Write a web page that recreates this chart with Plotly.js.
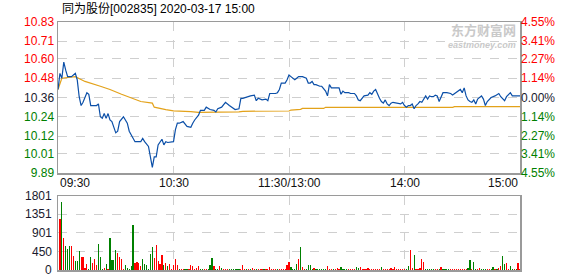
<!DOCTYPE html>
<html><head><meta charset="utf-8">
<script src="https://cdn.plot.ly/plotly-3.0.1.min.js"></script>
<style>html,body{margin:0;padding:0;background:#fff;}#chart{width:578px;height:276px;}</style>
</head><body><div id="chart"></div>
<script>
const titleText = "同为股份[002835] 2020-03-17 15:00";
const preClose = 10.36;
const priceTicks = [10.83,10.71,10.60,10.48,10.36,10.24,10.12,10.01,9.89];
const pctTicks = ["4.55%","3.41%","2.27%","1.14%","0.00%","1.14%","2.27%","3.41%","4.55%"];
const volTicks = [0,450,901,1351,1801];
const timeLabels = ["09:30","10:30","11:30/13:00","14:00","15:00"];
const timeLabelMinutes = [0,60,120,180,240];

const priceMinute = [0,1,2,3,4,5,7,8,9,10,11,12,13,15,16,17,20,21,22,23,24,25,26,27,28,30,31,32,34,36,37,40,43,44,45,47,48,49,50,51,52,53,54,55,56,57,60,61,62,63,65,67,69,70,71,73,74,76,77,79,81,82,83,85,87,89,90,92,94,95,96,98,100,102,103,104,106,108,109,110,113,114,
115,116,117,118,119,120,121,122,123,124,125,126,127,129,130,131,132,133,134,136,137,139,140,141,142,144,146,147,148,149,151,152,154,155,156,157,158,159,161,162,163,164,165,166,167,168,169,170,171,172,173,174,176,178,179,180,181,182,183,184,185,186,187,188,189,190,191,192,193,194,195,196,197,198,199,200,202,204,205,206,207,209,210,211,212,213,214,215,216,217,218,219,220,221,222,223,224,225,227,228,229,230,231,232,233,235,236,240];
const priceValue = [10.41,10.51,10.48,10.58,10.53,10.49,10.49,10.50,10.51,10.47,10.365,10.31,10.33,10.39,10.38,10.31,10.31,10.32,10.24,10.23,10.26,10.23,10.26,10.22,10.21,10.14,10.15,10.21,10.24,10.20,10.15,10.085,10.085,10.105,10.085,10.055,9.99,9.925,9.99,9.99,10.065,10.08,10.10,10.065,10.085,10.08,10.085,10.16,10.20,10.20,10.21,10.18,10.175,10.20,10.22,10.25,10.28,10.28,10.30,10.285,10.28,10.27,10.29,10.30,10.33,10.31,10.30,10.285,10.29,10.355,10.355,10.365,10.37,10.375,10.34,10.355,10.345,10.35,10.34,10.385,10.385,10.39,
10.41,10.45,10.45,10.45,10.47,10.50,10.49,10.48,10.47,10.48,10.49,10.49,10.49,10.48,10.45,10.45,10.46,10.44,10.44,10.43,10.43,10.40,10.37,10.44,10.42,10.42,10.42,10.38,10.40,10.39,10.39,10.385,10.385,10.37,10.345,10.34,10.355,10.37,10.375,10.39,10.38,10.40,10.41,10.38,10.355,10.335,10.325,10.345,10.32,10.31,10.325,10.33,10.325,10.32,10.33,10.31,10.30,10.31,10.31,10.32,10.29,10.31,10.32,10.335,10.33,10.35,10.37,10.35,10.37,10.365,10.365,10.375,10.37,10.335,10.365,10.39,10.39,10.385,10.375,10.385,10.395,10.41,10.39,10.42,10.37,10.345,10.335,10.33,10.345,10.32,10.35,10.36,10.37,10.35,10.31,10.335,10.35,10.36,10.37,10.375,10.385,10.365,10.35,10.34,10.365,10.39,10.37,10.37];

const avgMinute = [0,2,9,14,22,27,33,39,43,49,50,56,60,69,73,94,96,120,121,126,127,138,139,205,206,240];
const avgValue = [10.41,10.48,10.49,10.46,10.43,10.41,10.38,10.35,10.335,10.325,10.30,10.285,10.277,10.272,10.268,10.27,10.274,10.276,10.282,10.286,10.292,10.292,10.299,10.299,10.303,10.303];

// volume for minutes 1..240
const volume = [
1241,1646,770,584,503,584,584,340,219,219,
462,316,316,49,146,24,316,170,268,122,
633,316,24,49,146,24,779,243,243,487,
414,316,268,24,122,49,24,97,1095,170,
195,170,97,268,146,122,24,389,560,292,
608,219,146,365,122,170,97,146,24,122,
268,122,24,24,24,24,24,24,122,97,
24,49,97,24,24,24,24,24,122,292,
97,24,24,97,49,24,24,24,24,24,
24,24,24,24,24,122,24,24,24,24,
49,24,24,24,24,24,24,24,24,73,
24,24,24,24,24,24,24,24,122,195,
73,24,24,146,268,560,73,24,24,122,
122,24,49,24,24,24,24,24,24,97,
24,24,24,24,49,24,73,24,24,24,
24,24,24,24,73,49,73,24,24,24,
49,24,24,24,24,24,24,73,24,24,
24,24,49,24,73,24,24,24,24,24,
24,97,487,49,365,24,24,49,268,195,
24,24,24,24,24,24,24,24,73,24,
24,24,24,24,24,24,24,24,24,24,
24,24,49,243,24,195,24,24,49,24,
24,24,24,24,24,73,24,24,49,97,
340,146,170,24,97,24,24,24,170,24];
const volumeDir = [
1,-1,1,-1,-1,-1,1,1,-1,-1,
-1,1,1,1,1,-1,-1,1,1,1,
-1,-1,-1,1,-1,1,-1,-1,-1,-1,
1,1,1,1,-1,-1,-1,-1,-1,1,
1,1,1,-1,-1,-1,-1,-1,-1,1,
1,1,1,1,-1,1,-1,1,1,1,
1,1,-1,1,1,-1,-1,1,1,1,
1,1,1,-1,-1,1,1,-1,-1,-1,
1,-1,-1,1,-1,1,1,1,-1,-1,
-1,-1,-1,-1,1,1,1,-1,1,-1,
1,1,-1,1,1,1,-1,1,1,1,
1,1,1,-1,1,1,1,1,1,1,
-1,-1,-1,-1,1,-1,1,1,-1,-1,
-1,-1,1,-1,-1,-1,-1,-1,-1,1,
1,1,-1,1,1,1,-1,-1,-1,-1,
1,1,1,1,-1,-1,1,1,1,1,
1,1,1,1,1,1,1,-1,1,1,
1,1,1,1,1,1,1,1,1,1,
-1,-1,1,1,-1,1,1,1,1,1,
-1,-1,-1,-1,-1,1,1,-1,1,-1,
-1,-1,-1,1,1,1,1,1,1,1,
1,1,-1,-1,1,-1,-1,1,1,-1,
-1,-1,1,1,-1,-1,1,-1,1,1,
-1,-1,1,1,-1,-1,1,-1,1,1];

const RED = "#ff0000", GREEN = "#008000", DARK = "#1a1a2e";
const volMinute = volume.map((v, i) => i + 1);
const volColor = volumeDir.map(d => d > 0 ? RED : GREEN);
const tickColor = p => Math.abs(p - preClose) < 0.005 ? DARK : (p > preClose ? RED : GREEN);
const priceText = priceTicks.map(p => `<span style="color:${tickColor(p)}">${p.toFixed(2)}</span>`);
const pctText = pctTicks.map((t, i) => `<span style="color:${tickColor(priceTicks[i])}">${t}</span>`);

const font = "Liberation Sans, Arial, sans-serif";
const grid = {showgrid:true, gridcolor:"#cfcfcf", griddash:"dash", gridwidth:1, zeroline:false,
  showline:true, mirror:true, linecolor:"#9a9a9a", linewidth:1.5, ticks:""};

const traces = [
  {x: avgMinute, y: avgValue, type:"scatter", mode:"lines", line:{color:"#e3a21a", width:1.2}, xaxis:"x", yaxis:"y", hoverinfo:"skip"},
  {x: priceMinute, y: priceValue, type:"scatter", mode:"lines", line:{color:"#0b4fa8", width:1.2}, xaxis:"x", yaxis:"y2", hoverinfo:"skip"},
  {x: volMinute, y: volume, type:"bar", marker:{color: volColor, line:{width:0}}, width:0.62, xaxis:"x2", yaxis:"y3", hoverinfo:"skip"}
];

const annotations = [
  {text: titleText, xref:"paper", yref:"paper", x:0.004, y:1-9/276, xanchor:"left", yanchor:"middle", showarrow:false,
   font:{family:"Liberation Sans, Noto Sans CJK SC, sans-serif", size:12, color:"#000"}},
  {text:"<b>东方财富网</b>", xref:"paper", yref:"paper", x:(518-58)/462, y:1-29/276, xanchor:"right", yanchor:"middle", showarrow:false,
   font:{family:"Noto Sans CJK SC, sans-serif", size:13, color:"#c9c9c9"}},
  {text:"<b><i>eastmoney.com</i></b>", xref:"paper", yref:"paper", x:(518-58)/462, y:1-45/276, xanchor:"right", yanchor:"middle", showarrow:false,
   font:{family:font, size:9, color:"#c9c9c9"}}
];
timeLabels.forEach((t, i) => {
  const m = timeLabelMinutes[i];
  annotations.push({text:t, xref:"x", yref:"paper", x:m, y:1-183/276, yanchor:"middle",
    xanchor: i === 0 ? "left" : (i === timeLabels.length - 1 ? "right" : "center"), showarrow:false,
    font:{family:font, size:12, color:"#111"}});
});
volTicks.forEach(v => {
  annotations.push({text:String(v), xref:"paper", yref:"y3", x:-4/462, y:v, xanchor:"right", yanchor:"middle",
    showarrow:false, font:{family:font, size:12, color:DARK}});
});

const layout = {
  width:578, height:276, autosize:false, showlegend:false,
  margin:{l:58, r:58, t:0, b:0, pad:0},
  paper_bgcolor:"#fff", plot_bgcolor:"#fff", bargap:0,
  xaxis: Object.assign({}, grid, {domain:[0,1], range:[0,240], anchor:"y", tickvals:[60,120,180], showticklabels:false}),
  yaxis: Object.assign({}, grid, {domain:[1-173/276, 1-22/276], range:[9.89,10.83], anchor:"x",
    tickvals: priceTicks, ticktext: priceText, tickfont:{family:font, size:12}}),
  yaxis2: {overlaying:"y", side:"right", anchor:"x", range:[9.89,10.83], tickvals: priceTicks, ticktext: pctText,
    showgrid:false, zeroline:false, showline:false, ticks:"", tickfont:{family:font, size:12}},
  xaxis2: Object.assign({}, grid, {domain:[0,1], range:[0,240], anchor:"y3", tickvals:[60,120,180], showticklabels:false}),
  yaxis3: Object.assign({}, grid, {domain:[1-270/276, 1-196/276], range:[0,1801], anchor:"x2",
    tickvals: volTicks, showticklabels:false}),
  annotations: annotations
};

Plotly.newPlot("chart", traces, layout, {staticPlot:true, displayModeBar:false});
</script></body></html>
